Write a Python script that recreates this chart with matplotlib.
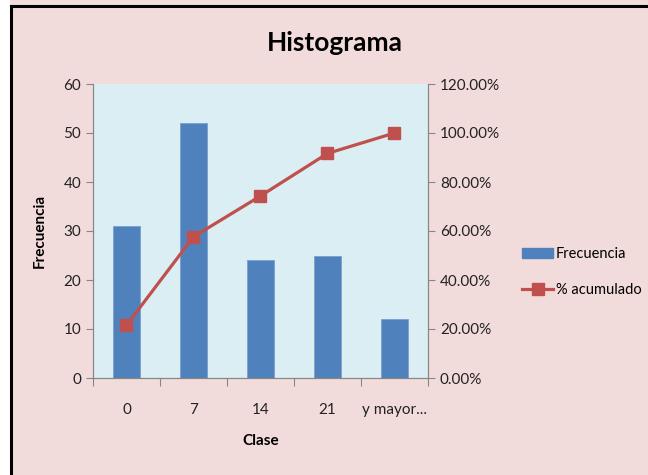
import matplotlib.pyplot as plt
import matplotlib.patches as mpatches
from matplotlib.lines import Line2D
import numpy as np

plt.rcParams['font.family'] = ['Lato', 'DejaVu Sans']

clases = ['0', '7', '14', '21', 'y mayor...']
frecuencia = [31, 52, 24, 25, 12]
acumulado = [21.53, 57.64, 74.31, 91.67, 100.0]

bar_color = '#4F81BD'
line_color = '#C0504D'
spine_color = '#868686'

fig = plt.figure(figsize=(6.48, 4.75), dpi=100)
fig.patch.set_facecolor('#F2DCDB')
# white strip on the left, black frame only on left and top
fig.patches.append(mpatches.Rectangle((0, 0), 10 / 648, 1, transform=fig.transFigure,
                                      facecolor='white', edgecolor='none', zorder=-1))
fig.lines.append(Line2D([10.5 / 648, 10.5 / 648], [0, 1 - 5.5 / 475], transform=fig.transFigure,
                        color='black', linewidth=2.2))
fig.lines.append(Line2D([10.5 / 648, 1], [1 - 5.5 / 475, 1 - 5.5 / 475], transform=fig.transFigure,
                        color='black', linewidth=2.2))

ax = fig.add_axes([93 / 648, 1 - 378 / 475, (428 - 93) / 648, (378 - 84) / 475])
ax.set_facecolor('#DBEEF3')
x = np.arange(len(clases))
ax.bar(x, frecuencia, width=0.4, color=bar_color, edgecolor='#7BA0CD', linewidth=0.6, zorder=2)
ax.set_xlim(-0.5, len(clases) - 0.5)
ax.set_ylim(0, 60)
ax.set_yticks(range(0, 61, 10))
ax.set_xticks(np.arange(-0.5, len(clases), 1.0))
ax.set_xticklabels([])
ax.set_xticks(x, minor=True)
ax.set_xticklabels(clases, minor=True)
ax.tick_params(axis='x', which='minor', length=0, pad=18, labelsize=11, labelcolor='#222222')
ax.tick_params(axis='x', which='major', length=6, color=spine_color)
ax.tick_params(axis='y', length=5, color=spine_color, labelsize=11, labelcolor='#222222')
for s in ['left', 'bottom', 'right']:
    ax.spines[s].set_color(spine_color)
ax.spines['top'].set_visible(False)
ax.set_xlabel('Clase', fontsize=11, fontweight='bold', labelpad=12)
ax.set_ylabel('Frecuencia', fontsize=11, fontweight='bold', labelpad=12)

ax2 = ax.twinx()
ax2.plot(x, acumulado, color=line_color, linewidth=2.3, marker='s', markersize=9,
         markerfacecolor=line_color, markeredgecolor=line_color, zorder=3)
ax2.set_ylim(0, 120)
ax2.set_yticks(range(0, 121, 20))
ax2.set_yticklabels([f'{v:.2f}%' for v in range(0, 121, 20)])
ax2.tick_params(axis='y', length=5, color=spine_color, labelsize=11, labelcolor='#222222')
for s in ['left', 'bottom', 'right']:
    ax2.spines[s].set_color(spine_color)
ax2.spines['top'].set_visible(False)

fig.text(335 / 648, 1 - 43 / 475, 'Histograma', ha='center', va='center',
         fontsize=19, fontweight='bold')

handles = [mpatches.Patch(facecolor=bar_color, edgecolor=bar_color),
           Line2D([], [], color=line_color, linewidth=2.3, marker='s', markersize=9)]
fig.legend(handles, ['Frecuencia', '% acumulado'], loc='center left',
           bbox_to_anchor=(512 / 648, 1 - 272 / 475), frameon=False, fontsize=10.5,
           handlelength=2.1, labelspacing=1.5, handletextpad=0.2, borderpad=0.2)

fig.savefig('out.png', dpi=100, facecolor=fig.get_facecolor())
